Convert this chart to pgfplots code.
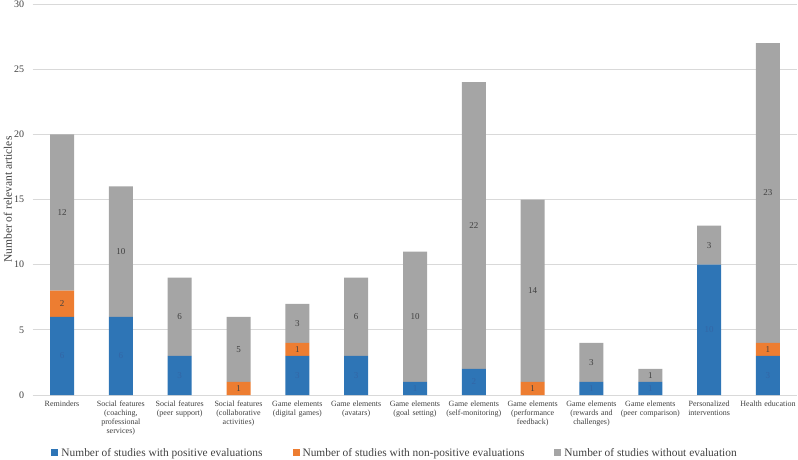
\documentclass[border=0pt]{standalone}
\usepackage{fontspec}
\setmainfont{Liberation Serif}
\usepackage{pgfplots}
\usepackage{pgfplotstable}
\pgfplotsset{compat=1.18}
\definecolor{cblue}{HTML}{2E75B6}
\definecolor{corange}{HTML}{ED7D31}
\definecolor{cgray}{HTML}{A5A5A5}
\definecolor{cgrid}{HTML}{D9D9D9}
\definecolor{ctxt}{HTML}{404040}
\definecolor{cbluetxt}{HTML}{3366A6}

\pgfplotstableread{
x pos nonpos without
0 6 2 12
1 6 0 10
2 3 0 6
3 0 1 5
4 3 1 3
5 3 0 6
6 1 0 10
7 2 0 22
8 0 1 14
9 1 0 3
10 1 0 1
11 10 0 3
12 3 1 23
}\datatable

\pgfplotstableread{
x y label
0 7 2
0 14 12
1 11 10
2 6 6
3 0.5 1
3 3.5 5
4 3.5 1
4 5.5 3
5 6 6
6 6 10
7 13 22
8 0.5 1
8 8 14
9 2.5 3
10 1.5 1
11 11.5 3
12 3.5 1
12 15.5 23
}\darklabels

\pgfplotstableread{
x y label
0 3 6
1 3 6
2 1.5 3
4 1.5 3
5 1.5 3
6 0.5 1
7 1 2
9 0.5 1
10 0.5 1
11 5 10
12 1.5 3
}\bluelabels

\pgfplotsset{
  common/.style={
    scale only axis,
    width=764.8pt, height=391pt,
    xmin=-0.5, xmax=12.5,
    ymin=0, ymax=30,
  }
}

\begin{document}
\begin{tikzpicture}
\begin{axis}[
  common,
  ybar stacked,
  bar width=24pt,
  axis line style={draw=none},
  major tick length=0pt,
  ytick={0,5,...,30},
  ymajorgrids,
  grid style={cgrid, line width=0.8pt},
  xtick={0,...,12},
  xticklabels={
    Reminders,
    {Social features\\(coaching,\\professional\\services)},
    {Social features\\(peer support)},
    {Social features\\(collaborative\\activities)},
    {Game elements\\(digital games)},
    {Game elements\\(avatars)},
    {Game elements\\(goal setting)},
    {Game elements\\(self-monitoring)},
    {Game elements\\(performance\\feedback)},
    {Game elements\\(rewards and\\challenges)},
    {Game elements\\(peer comparison)},
    {Personalized\\interventions},
    {Health education}
  },
  xticklabel style={font=\fontsize{8}{9}\selectfont, align=center, text width=60pt, color=ctxt, yshift=-2pt},
  yticklabel style={font=\fontsize{10}{12}\selectfont, color=ctxt, xshift=-5pt},
  /pgf/number format/assume math mode=true,
  ylabel={Number of relevant articles},
  ylabel style={at={(axis description cs:-0.0322,0.5)}, anchor=center, font=\fontsize{11.5}{13}\selectfont, color=ctxt},
  legend style={
    at={(axis description cs:0.474,-0.148)}, anchor=center,
    draw=none, fill=none,
    legend columns=3,
    font=\fontsize{11.4}{13}\selectfont,
    text=ctxt,
    /tikz/every odd column/.append style={column sep=1pt},
    /tikz/every even column/.append style={column sep=28pt},
  },
  legend image code/.code={\fill[#1] (0pt,-3.5pt) rectangle (7pt,3.5pt);},
]
\addplot[fill=cblue, draw=none] table[x=x, y=pos] {\datatable};
\addplot[fill=corange, draw=none] table[x=x, y=nonpos] {\datatable};
\addplot[fill=cgray, draw=none] table[x=x, y=without] {\datatable};
\legend{Number of studies with positive evaluations, Number of studies with non-positive evaluations, Number of studies without evaluation}
\end{axis}
\begin{axis}[
  common,
  hide axis,
]
\addplot[draw=none, nodes near coords, point meta=explicit symbolic,
  every node near coord/.append style={anchor=center, font=\fontsize{9}{10}\selectfont, text=ctxt}]
  table[x=x, y=y, meta=label] {\darklabels};
\addplot[draw=none, nodes near coords, point meta=explicit symbolic,
  every node near coord/.append style={anchor=center, font=\fontsize{9}{10}\selectfont, text=cbluetxt}]
  table[x=x, y=y, meta=label] {\bluelabels};
\end{axis}
\pgfresetboundingbox
\path[use as bounding box] (-32.6pt,-64pt) rectangle (765.4pt,395pt);
\end{tikzpicture}
\end{document}
